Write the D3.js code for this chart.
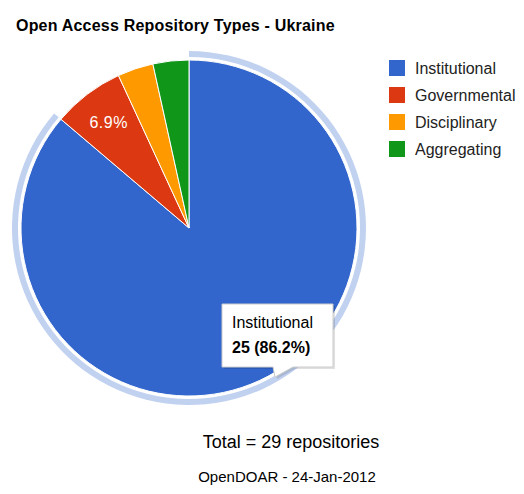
<!DOCTYPE html>
<html>
<head>
<meta charset="utf-8">
<script src="https://cdn.jsdelivr.net/npm/d3@7"></script>
<style>
  body { margin: 0; background: #fff; }
  text { font-family: Arial, "Liberation Sans", sans-serif; }
</style>
</head>
<body>
<div id="chart"></div>
<script>
// repository types and counts
var categories = ["Institutional", "Governmental", "Disciplinary", "Aggregating"];
var counts = [25, 2, 1, 1];
var colors = ["#3366cc", "#dc3912", "#ff9900", "#109618"];
var title = "Open Access Repository Types - Ukraine";
var footer1 = "Total = 29 repositories";
var footer2 = "OpenDOAR - 24-Jan-2012";
var highlighted = 0; // slice with tooltip

var W = 524, H = 494;
var cx = 189, cy = 228, radius = 168;

var total = d3.sum(counts);
var data = categories.map(function (c, i) { return { name: c, value: counts[i], color: colors[i] }; });

var svg = d3.select("#chart").append("svg")
    .attr("width", W).attr("height", H);

// title
svg.append("text")
    .attr("x", 16).attr("y", 31)
    .attr("font-size", 16).attr("font-weight", "bold")
    .attr("letter-spacing", 0.2)
    .attr("fill", "#000")
    .text(title);

var pie = d3.pie().sort(null).value(function (d) { return d.value; });
var arcs = pie(data);
var arc = d3.arc().innerRadius(0).outerRadius(radius);
var ring = d3.arc().innerRadius(radius + 3).outerRadius(radius + 9);

var g = svg.append("g").attr("transform", "translate(" + cx + "," + cy + ")");

// highlight ring around hovered slice
g.append("path")
    .attr("d", ring(arcs[highlighted]))
    .attr("fill", colors[highlighted])
    .attr("fill-opacity", 0.3);

g.selectAll(".slice")
    .data(arcs)
    .enter().append("path")
    .attr("class", "slice")
    .attr("d", arc)
    .attr("fill", function (d) { return d.data.color; })
    .attr("stroke", "#fff")
    .attr("stroke-width", 1);

// percentage labels (the highlighted one sits under the tooltip)
var labelArc = d3.arc().innerRadius(radius * 0.79).outerRadius(radius * 0.79);
g.selectAll(".lbl")
    .data(arcs.filter(function (d) { return d.value / total >= 0.05 && d.index !== highlighted; }))
    .enter().append("text")
    .attr("class", "lbl")
    .attr("x", function (d) { return labelArc.centroid(d)[0]; })
    .attr("y", function (d) { return labelArc.centroid(d)[1] + 6; })
    .attr("text-anchor", "middle")
    .attr("font-size", 16)
    .attr("letter-spacing", 0.5)
    .attr("fill", "#fff")
    .text(function (d) { return (d.value / total * 100).toFixed(1) + "%"; });

// legend
var legend = svg.append("g").attr("transform", "translate(389,60)");
var li = legend.selectAll(".li")
    .data(data)
    .enter().append("g")
    .attr("transform", function (d, i) { return "translate(0," + (i * 27) + ")"; });
li.append("rect")
    .attr("width", 16).attr("height", 16)
    .attr("fill", function (d) { return d.color; });
li.append("text")
    .attr("x", 26).attr("y", 14)
    .attr("font-size", 16)
    .attr("fill", "#222")
    .text(function (d) { return d.name; });

// tooltip for highlighted slice
var tip = svg.append("g").attr("transform", "translate(" + (cx + 33) + "," + (cy + 76) + ")");
var tw = 111, th = 63;
var tipPath = "M0,0 H" + tw + " V" + th + " H71 L53," + (th + 10) + " L51," + th + " H0 Z";
tip.append("path")
    .attr("d", tipPath)
    .attr("transform", "translate(2,2)")
    .attr("fill", "#000").attr("fill-opacity", 0.12);
tip.append("path")
    .attr("d", tipPath)
    .attr("fill", "#fff")
    .attr("stroke", "#ccc").attr("stroke-width", 1);
tip.append("text")
    .attr("x", 10).attr("y", 24)
    .attr("font-size", 16).attr("fill", "#000")
    .text(categories[highlighted]);
tip.append("text")
    .attr("x", 10).attr("y", 49)
    .attr("font-size", 16).attr("font-weight", "bold").attr("fill", "#000")
    .text(counts[highlighted] + " (" + (counts[highlighted] / total * 100).toFixed(1) + "%)");

// footer
svg.append("text")
    .attr("x", 291).attr("y", 448)
    .attr("text-anchor", "middle")
    .attr("font-size", 18).attr("fill", "#000")
    .text(footer1);
svg.append("text")
    .attr("x", 287).attr("y", 482)
    .attr("text-anchor", "middle")
    .attr("font-size", 15).attr("fill", "#000")
    .text(footer2);
</script>
</body>
</html>
